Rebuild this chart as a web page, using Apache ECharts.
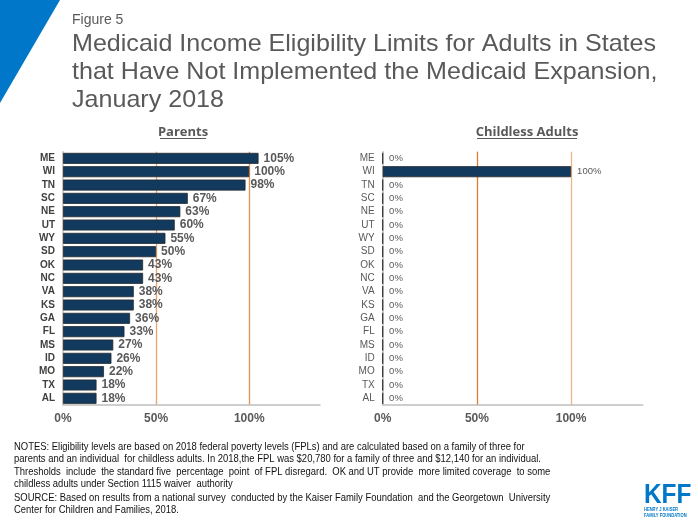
<!DOCTYPE html>
<html><head><meta charset="utf-8">
<script src="https://cdn.jsdelivr.net/npm/echarts@6/dist/echarts.min.js"></script>
<style>html,body{margin:0;padding:0;background:#fff}#c{width:698px;height:523px}</style>
</head><body><div id="c"></div>
<script>
const states = ['ME','WI','TN','SC','NE','UT','WY','SD','OK','NC','VA','KS','GA','FL','MS','ID','MO','TX','AL'];
const parents = [105,100,98,67,63,60,55,50,43,43,38,38,36,33,27,26,22,18,18];
const childless = [0,100,0,0,0,0,0,0,0,0,0,0,0,0,0,0,0,0,0];
const xTicks = [0,50,100];
const panelTitles = ['Parents','Childless Adults'];
const figLabel = 'Figure 5';
const titleLines = ['Medicaid Income Eligibility Limits for Adults in States','that Have Not Implemented the Medicaid Expansion,','January 2018'];
const notes = [
 'NOTES: Eligibility levels are based on 2018 federal poverty levels (FPLs) and are calculated based on a family of three for',
 'parents and an individual  for childless adults. In 2018,the FPL was $20,780 for a family of three and $12,140 for an individual.',
 'Thresholds  include  the standard five  percentage  point  of FPL disregard.  OK and UT provide  more limited coverage  to some',
 'childless adults under Section 1115 waiver  authority',
 'SOURCE: Based on results from a national survey  conducted by the Kaiser Family Foundation  and the Georgetown  University',
 'Center for Children and Families, 2018.'
];

const chart = echarts.init(document.getElementById('c'));
const grey = '#595959';
function xAxisCfg(gi, colors){
  return {type:'value', gridIndex:gi, min:0, max:138, interval:50,
    axisLine:{show:true,lineStyle:{color:'#BFBFBF',width:1.5}},
    axisTick:{show:false},
    axisLabel:{color:grey,fontWeight:'bold',fontSize:12,fontFamily:'Liberation Sans',margin:8,
      formatter:v=> xTicks.indexOf(v)>=0 ? v+'%' : ''},
    splitLine:{show:true,lineStyle:{color:colors,width:1.3}}};
}
function yAxisCfg(gi, bold){
  return {type:'category', gridIndex:gi, data:states, inverse:true,
    axisLine:{show:true,lineStyle:{color:'#BFBFBF',width:1.5}},
    axisTick:{show:false},
    axisLabel:{color: bold?'#404040':grey, fontWeight: bold?'bold':'normal', fontSize:10, fontFamily:'Liberation Sans', margin:8}};
}
const barStyle = {color:'#113A5E', borderColor:'#2a2a2a', borderWidth:0.8};

const graphic = [
  {type:'polygon', shape:{points:[[0,0],[60,0],[0,103]]}, style:{fill:'#0077C8'}},
  {type:'text', x:72, y:20, style:{text:figLabel, fill:grey, font:'14px "Liberation Sans"', textVerticalAlign:'middle'}},
];
titleLines.forEach((t,i)=>graphic.push({type:'text', x:72, y:44.5+i*28, scaleX:1.045,
  style:{text:t, fill:grey, font:'24px "Liberation Sans"', textVerticalAlign:'middle'}}));
const tpos = [183, 527];
panelTitles.forEach((t,i)=>{
  graphic.push({type:'text', x:tpos[i], y:132, style:{text:t, fill:grey, font:'bold 13px "Open Sans"', textAlign:'center', textVerticalAlign:'middle'}});
});
graphic.push({type:'line', shape:{x1:160,y1:138.5,x2:206,y2:138.5}, style:{stroke:grey,lineWidth:1}});
graphic.push({type:'line', shape:{x1:477,y1:138.5,x2:577,y2:138.5}, style:{stroke:grey,lineWidth:1}});
const noteY = [447,459.5,472,484.5,498,510.5];
notes.forEach((t,i)=>graphic.push({type:'text', x:14, y:noteY[i], scaleX:0.9,
  style:{text:t, fill:'#111', font:'10.5px "Liberation Sans"', textVerticalAlign:'middle'}}));
graphic.push({type:'text', x:644, y:495, scaleX:0.87, style:{text:'KFF', fill:'#0077C8', font:'bold 28px "Liberation Sans"', textVerticalAlign:'middle'}});
graphic.push({type:'text', x:644, y:507, scaleX:0.85, style:{text:'HENRY J KAISER\nFAMILY FOUNDATION', fill:'#0077C8', font:'bold 4.8px "Liberation Sans"', lineHeight:5.5}});

chart.setOption({
  animation:false,
  grid:[{left:63, top:151.7, width:257, height:253.3},{left:382.7, top:151.7, width:260, height:253.3}],
  xAxis:[xAxisCfg(0,['transparent','#E8A46E','#E39454','transparent']), xAxisCfg(1,['transparent','#DC7E30','#EDB486','transparent'])],
  yAxis:[yAxisCfg(0,true), yAxisCfg(1,false)],
  series:[
    {type:'bar', xAxisIndex:0, yAxisIndex:0, data:parents, barWidth:11, itemStyle:barStyle,
     label:{show:true, position:'right', distance:5, formatter:'{c}%', color:grey, fontWeight:'bold', fontSize:12, fontFamily:'Liberation Sans'}},
    {type:'bar', xAxisIndex:1, yAxisIndex:1, data:childless, barWidth:11, itemStyle:barStyle,
     label:{show:true, position:'right', distance:6, formatter:'{c}%', color:grey, fontSize:9.5, fontFamily:'Liberation Sans'}}
  ],
  graphic: graphic
});
</script></body></html>
